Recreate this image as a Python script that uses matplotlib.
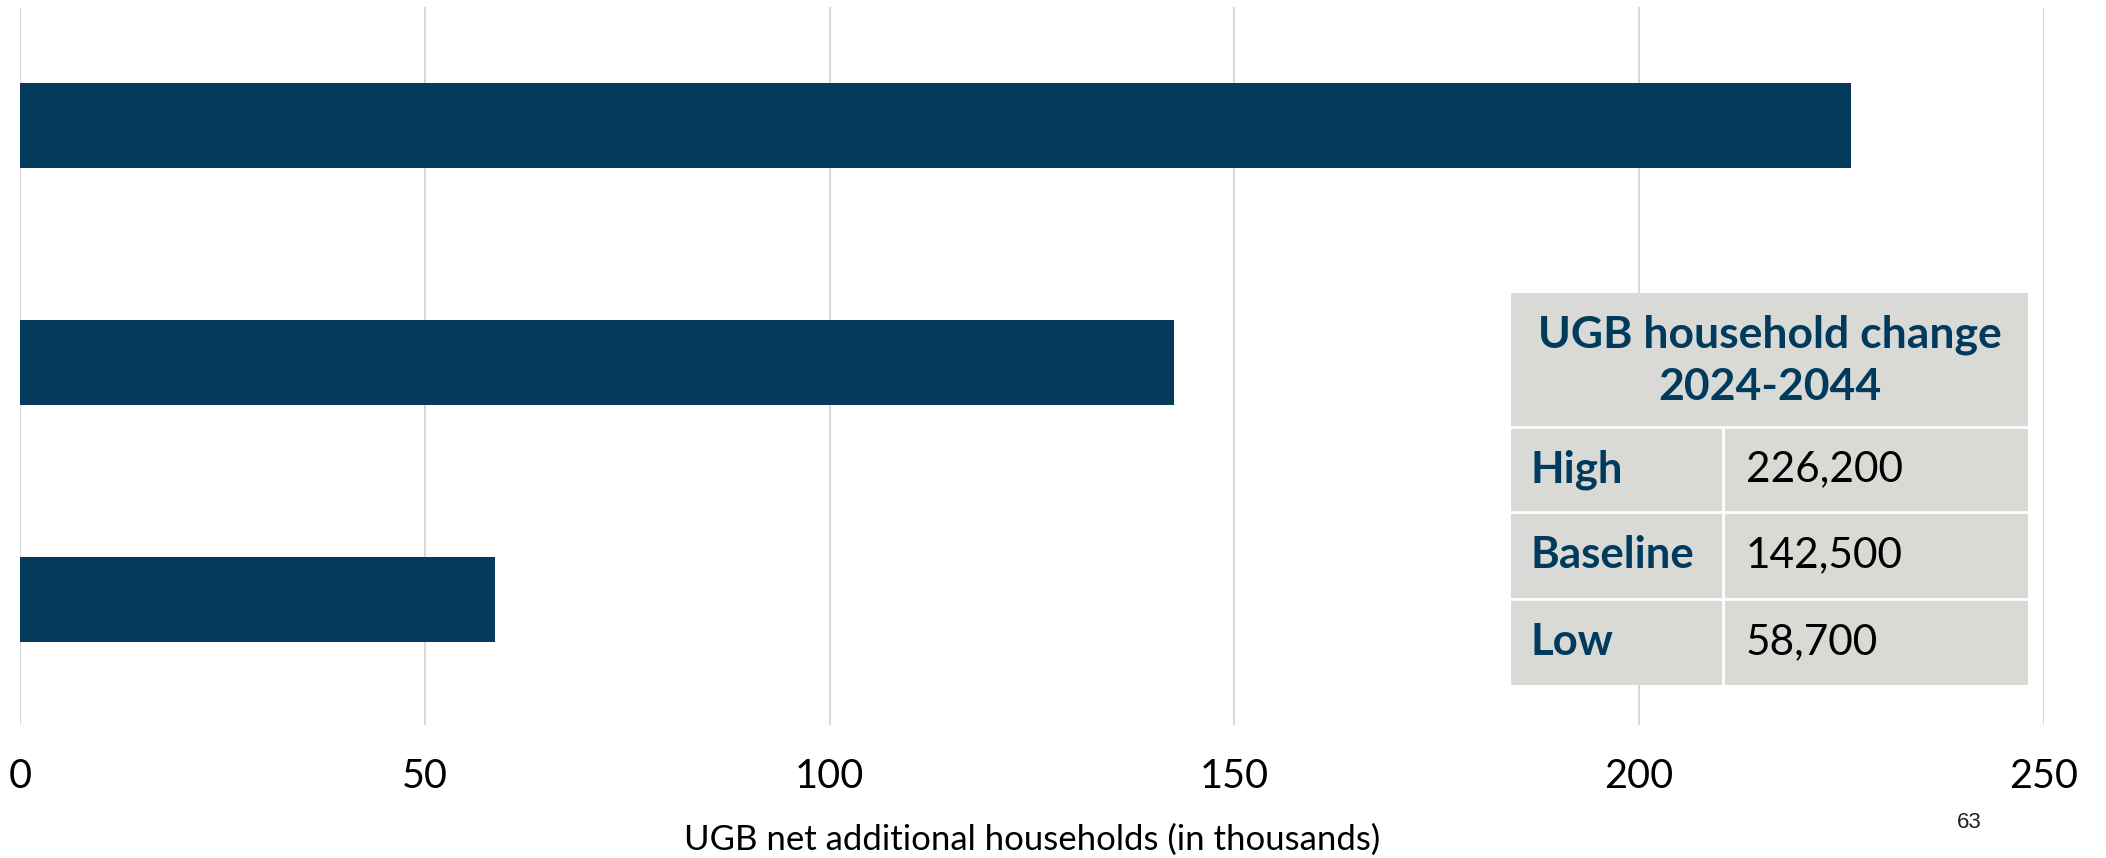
import matplotlib.pyplot as plt
from matplotlib.patches import Rectangle

# scenarios, bottom to top
scenarios = ["Low", "Baseline", "High"]
households_k = [58.7, 142.5, 226.2]

table_title = "UGB household change\n2024-2044"
table_rows = ["High", "Baseline", "Low"]
table_values = ["226,200", "142,500", "58,700"]

x_ticks = [0, 50, 100, 150, 200, 250]

navy = "#043a5c"
title_blue = "#003a5d"
table_bg = "#d9d9d6"

plt.rcParams["font.family"] = ["Lato", "DejaVu Sans"]

W, H = 2106, 858
fig = plt.figure(figsize=(W / 100, H / 100), dpi=100)
ax = fig.add_axes([20 / W, 1 - 725 / H, 2024 / W, 718 / H])

ax.barh(range(len(scenarios)), households_k, height=0.36, color=navy, zorder=3)

ax.set_xlim(0, 250)
ax.set_ylim(-0.53, 2.5)
ax.set_xticks(x_ticks)
ax.set_yticks([])
ax.grid(axis="x", color="#d9d9d9", linewidth=1.5)
ax.set_axisbelow(True)
for s in ax.spines.values():
    s.set_visible(False)
ax.tick_params(axis="x", length=0, pad=24, labelsize=28.5)
ax.set_xlabel("UGB net additional households (in thousands)", fontsize=25, labelpad=20)

# summary table, laid out in pixel units
def fx(px):
    return px / W

def fy(py):
    return 1 - py / H

left, right, mid = 1511, 2028, 1723
row_lines = [293, 427, 512, 599, 685]

fig.patches.append(Rectangle((fx(left), fy(row_lines[-1])), fx(right - left),
                             (row_lines[-1] - row_lines[0]) / H,
                             transform=fig.transFigure, facecolor=table_bg,
                             edgecolor="none", zorder=5))
for y in row_lines[1:-1]:
    fig.add_artist(plt.Line2D([fx(left), fx(right)], [fy(y), fy(y)],
                              transform=fig.transFigure, color="white", lw=2, zorder=6))
fig.add_artist(plt.Line2D([fx(mid), fx(mid)], [fy(row_lines[1]), fy(row_lines[-1])],
                          transform=fig.transFigure, color="white", lw=2, zorder=6))

fig.text(fx((left + right) / 2), fy((row_lines[0] + row_lines[1]) / 2 + 1), table_title,
         ha="center", va="center", fontsize=32, fontweight="bold", color=title_blue,
         linespacing=1.35, zorder=7)
for i, (lab, val) in enumerate(zip(table_rows, table_values)):
    yc = fy((row_lines[i + 1] + row_lines[i + 2]) / 2)
    fig.text(fx(1531), yc, lab, ha="left", va="center", fontsize=31.5,
             fontweight="bold", color=title_blue, zorder=7)
    fig.text(fx(1746), yc, val, ha="left", va="center", fontsize=30.5,
             color="black", zorder=7)

fig.text(fx(1969), fy(823), "63", ha="center", va="center", fontsize=16,
         family=["Liberation Sans", "DejaVu Sans"], color="#222222")

fig.savefig("out.png", dpi=100)
